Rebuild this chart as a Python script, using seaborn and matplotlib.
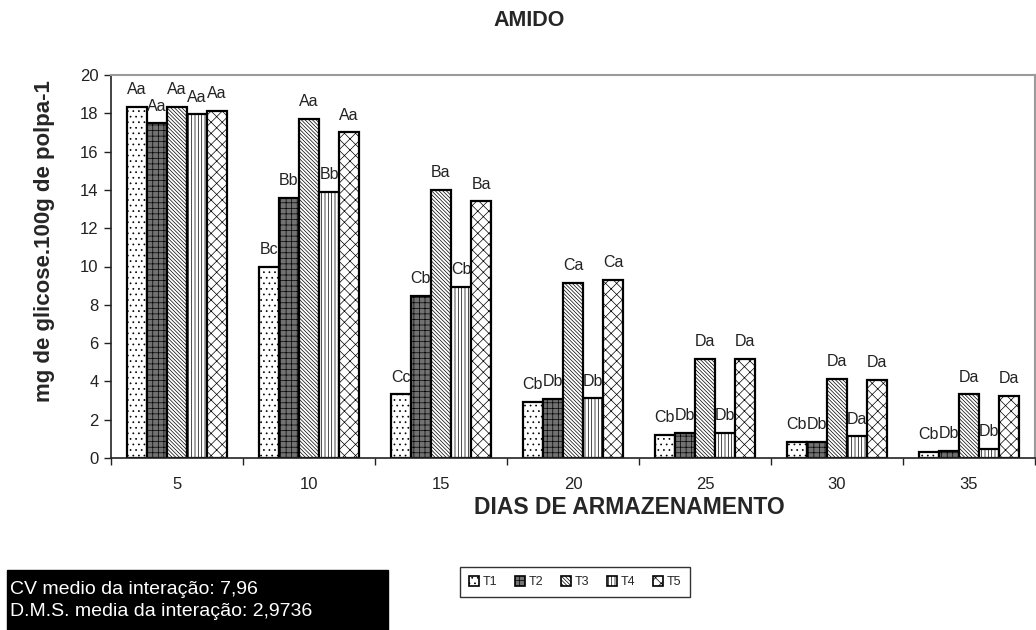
import matplotlib
matplotlib.use("Agg")
import matplotlib.pyplot as plt
import seaborn as sns
import pandas as pd
from matplotlib.patches import Patch, Rectangle
from matplotlib.ticker import FixedLocator

days = ["5", "10", "15", "20", "25", "30", "35"]
treatments = ["T1", "T2", "T3", "T4", "T5"]
t1 = [18.35, 10.0, 3.33, 2.95, 1.21, 0.85, 0.33]
t2 = [17.48, 13.6, 8.45, 3.07, 1.30, 0.85, 0.38]
t3 = [18.35, 17.7, 14.0, 9.15, 5.16, 4.15, 3.33]
t4 = [17.95, 13.9, 8.92, 3.12, 1.30, 1.13, 0.48]
t5 = [18.14, 17.0, 13.4, 9.32, 5.19, 4.08, 3.24]
lab_t1 = ["Aa", "Bc", "Cc", "Cb", "Cb", "Cb", "Cb"]
lab_t2 = ["Aa", "Bb", "Cb", "Db", "Db", "Db", "Db"]
lab_t3 = ["Aa", "Aa", "Ba", "Ca", "Da", "Da", "Da"]
lab_t4 = ["Aa", "Bb", "Cb", "Db", "Db", "Da", "Db"]
lab_t5 = ["Aa", "Aa", "Ba", "Ca", "Da", "Da", "Da"]
yticks = [0, 2, 4, 6, 8, 10, 12, 14, 16, 18, 20]

series = [t1, t2, t3, t4, t5]
labels = [lab_t1, lab_t2, lab_t3, lab_t4, lab_t5]
rows = []
for t, vals in zip(treatments, series):
    for d, v in zip(days, vals):
        rows.append({"dia": d, "trat": t, "valor": v})
df = pd.DataFrame(rows)

sns.set_style("white")
plt.rcParams["font.family"] = ["Liberation Sans", "DejaVu Sans"]
plt.rcParams["hatch.linewidth"] = 0.5

styles = {
    "T1": dict(facecolor="white", hatch="..."),
    "T2": dict(facecolor="#727272", hatch="+++"),
    "T3": dict(facecolor="white", hatch="\\" * 9),
    "T4": dict(facecolor="white", hatch="|" * 5),
    "T5": dict(facecolor="white", hatch="xxx"),
}

fig = plt.figure(figsize=(10.36, 6.30), dpi=100)
ax = fig.add_axes([111/1036, 1-458/630, 924/1036, 383/630])

sns.barplot(data=df, x="dia", y="valor", hue="trat", order=days,
            hue_order=treatments, width=0.76, ax=ax, legend=False,
            errorbar=None, saturation=1)

for cont, t, labs in zip(ax.containers, treatments, labels):
    for bar, lab in zip(cont, labs):
        bar.set_facecolor(styles[t]["facecolor"])
        bar.set_hatch(styles[t]["hatch"])
        bar.set_edgecolor("black")
        bar.set_linewidth(1.6)
        ax.annotate(lab, (bar.get_x() + bar.get_width()/2, bar.get_height()),
                    xytext=(0, 7), textcoords="offset points",
                    ha="center", va="bottom", fontsize=11.5, color="#222222")

ax.set_xlim(-0.5, 6.5)
ax.set_ylim(0, 20)
ax.set_yticks(yticks)
ax.tick_params(axis="y", which="major", direction="out", length=5, width=1,
               labelsize=12, left=True, pad=4, colors="#222222")
ax.tick_params(axis="x", which="major", length=0, labelsize=12, pad=14,
               colors="#222222")
ax.xaxis.set_minor_locator(FixedLocator([i + 0.5 for i in range(-1, 7)]))
ax.tick_params(axis="x", which="minor", direction="out", length=5, width=1,
               bottom=True, color="#222222")
ax.set_xlabel("")
ax.set_ylabel("")
for s in ["left", "bottom"]:
    ax.spines[s].set_color("#222222")
    ax.spines[s].set_linewidth(1.2)
for s in ["top", "right"]:
    ax.spines[s].set_visible(True)
    ax.spines[s].set_color("#9a9a9a")
    ax.spines[s].set_linewidth(1.5)

fig.text(529/1036, 1-21/630, "AMIDO", ha="center", va="center",
         fontsize=15.5, fontweight="bold")
fig.text(629/1036, 1-507/630, "DIAS DE ARMAZENAMENTO", ha="center",
         va="center", fontsize=16.5, fontweight="bold")
fig.text(45/1036, 1-241/630, "mg de glicose.100g de polpa-1", ha="center",
         va="center", rotation=90, fontsize=16, fontweight="bold")

fig.patches.append(Rectangle((7/1036, 0), 381/1036, 60/630,
                             transform=fig.transFigure, facecolor="black",
                             edgecolor="black"))
fig.text(10/1036, 1-589/630, "CV medio da interação: 7,96", color="white",
         fontsize=14, ha="left", va="center")
fig.text(10/1036, 1-611/630, "D.M.S. media da interação: 2,9736",
         color="white", fontsize=14, ha="left", va="center")

handles = [Patch(facecolor=styles[t]["facecolor"], hatch=styles[t]["hatch"],
                 edgecolor="black", linewidth=1.2, label=t)
           for t in treatments]
leg = fig.legend(handles=handles, loc="center", ncol=5,
                 bbox_to_anchor=(575/1036, 1-582/630), fontsize=9,
                 handlelength=0.8, handleheight=0.8, handletextpad=0.3,
                 columnspacing=1.4, frameon=True, fancybox=False,
                 borderpad=0.7)
leg.get_frame().set_edgecolor("black")
leg.get_frame().set_linewidth(1.0)

fig.savefig("out.png", dpi=100)
